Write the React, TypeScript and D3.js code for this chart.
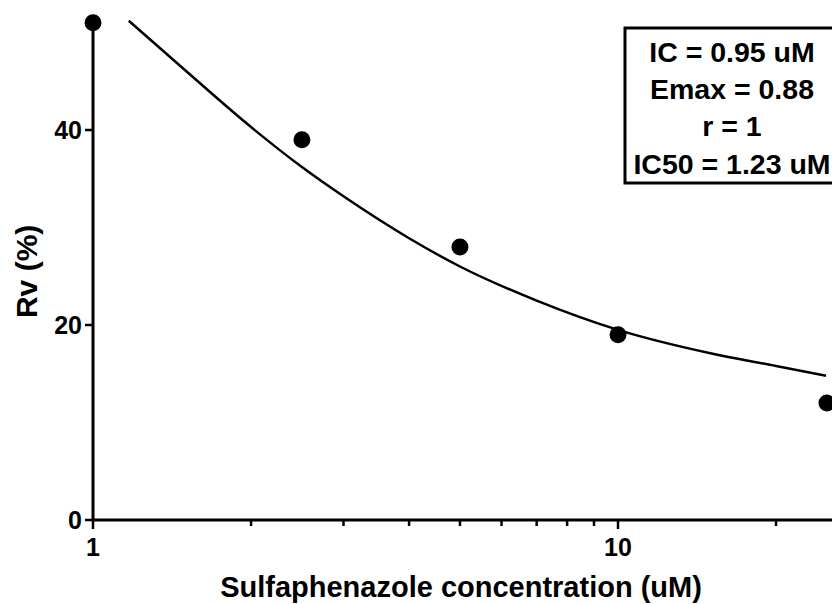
import React, { useEffect, useRef } from "react";
import * as d3 from "d3";

// measured points
const concentrations = [1, 2.5, 5, 10, 25];
const rvValues = [51, 39, 28, 19, 12];

// fitted curve
const fitConc = [1.17, 1.5, 2, 2.5, 3, 4, 5, 7, 10, 15, 20, 24.9];
const fitRv = [51.2, 46.1, 40.3, 36.2, 33.2, 28.9, 26.0, 22.5, 19.5, 17.1, 15.8, 14.8];

const yTicks = [0, 20, 40];
const xMajorTicks = [1, 10];
const xMinorTicks = [2, 3, 4, 5, 6, 7, 8, 9, 20];

const boxLines = ["IC = 0.95 uM", "Emax = 0.88", "r = 1", "IC50 = 1.23 uM"];

const W = 832;
const H = 604;
const FONT = "'Liberation Sans', Arial, Helvetica, sans-serif";

export default function App() {
  const ref = useRef<SVGSVGElement>(null);

  useEffect(() => {
    const svg = d3.select(ref.current);
    svg.selectAll("*").remove();

    const x = d3.scaleLog().domain([1, 10]).range([93, 618]);
    const y = d3.scaleLinear().domain([0, 40]).range([520, 130]);

    const g = svg.append("g").attr("font-family", FONT).attr("font-weight", "bold");

    // y axis
    g.append("line")
      .attr("x1", x(1)).attr("x2", x(1))
      .attr("y1", y(0)).attr("y2", y(51))
      .attr("stroke", "#000").attr("stroke-width", 3);

    g.selectAll(".ytick")
      .data(yTicks)
      .join("line")
      .attr("x1", x(1) - 8).attr("x2", x(1))
      .attr("y1", (d) => y(d)).attr("y2", (d) => y(d))
      .attr("stroke", "#000").attr("stroke-width", 2.5);

    g.selectAll(".ylab")
      .data(yTicks)
      .join("text")
      .attr("x", x(1) - 11)
      .attr("y", (d) => y(d) + 9)
      .attr("text-anchor", "end")
      .attr("font-size", 25)
      .text((d) => d);

    // x axis
    g.append("line")
      .attr("x1", x(1) - 1.5).attr("x2", W + 10)
      .attr("y1", y(0)).attr("y2", y(0))
      .attr("stroke", "#000").attr("stroke-width", 3);

    g.selectAll(".xmaj")
      .data(xMajorTicks)
      .join("line")
      .attr("x1", (d) => x(d)).attr("x2", (d) => x(d))
      .attr("y1", y(0)).attr("y2", y(0) + 9)
      .attr("stroke", "#000").attr("stroke-width", 2.5);

    g.selectAll(".xmin")
      .data(xMinorTicks)
      .join("line")
      .attr("x1", (d) => x(d)).attr("x2", (d) => x(d))
      .attr("y1", y(0)).attr("y2", y(0) + 6)
      .attr("stroke", "#000").attr("stroke-width", 2.5);

    g.selectAll(".xlab")
      .data(xMajorTicks)
      .join("text")
      .attr("x", (d) => x(d))
      .attr("y", 556)
      .attr("text-anchor", "middle")
      .attr("font-size", 25)
      .text((d) => d);

    // axis titles
    g.append("text")
      .attr("x", 461)
      .attr("y", 597)
      .attr("text-anchor", "middle")
      .attr("font-size", 29)
      .text("Sulfaphenazole concentration (uM)");

    g.append("text")
      .attr("transform", `translate(37,${(y(0) + y(51)) / 2}) rotate(-90)`)
      .attr("text-anchor", "middle")
      .attr("font-size", 30)
      .text("Rv (%)");

    // fitted curve
    const line = d3
      .line<number>()
      .x((d) => x(d))
      .y((_, i) => y(fitRv[i]))
      .curve(d3.curveMonotoneX);

    g.append("path")
      .attr("d", line(fitConc))
      .attr("fill", "none")
      .attr("stroke", "#000")
      .attr("stroke-width", 2.5);

    // points
    g.selectAll(".pt")
      .data(concentrations)
      .join("circle")
      .attr("cx", (d) => x(d))
      .attr("cy", (_, i) => y(rvValues[i]))
      .attr("r", 8.5)
      .attr("fill", "#000");

    // parameter box
    g.append("rect")
      .attr("x", 625).attr("y", 28)
      .attr("width", 230).attr("height", 155)
      .attr("fill", "#fff")
      .attr("stroke", "#000").attr("stroke-width", 3);

    g.selectAll(".boxline")
      .data(boxLines)
      .join("text")
      .attr("x", 732)
      .attr("y", (_, i) => 62 + i * 37.2)
      .attr("text-anchor", "middle")
      .attr("font-size", 28.5)
      .text((d) => d);
  }, []);

  return (
    <svg
      ref={ref}
      width={W}
      height={H}
      style={{ position: "absolute", left: 0, top: 0, background: "#fff" }}
    />
  );
}
